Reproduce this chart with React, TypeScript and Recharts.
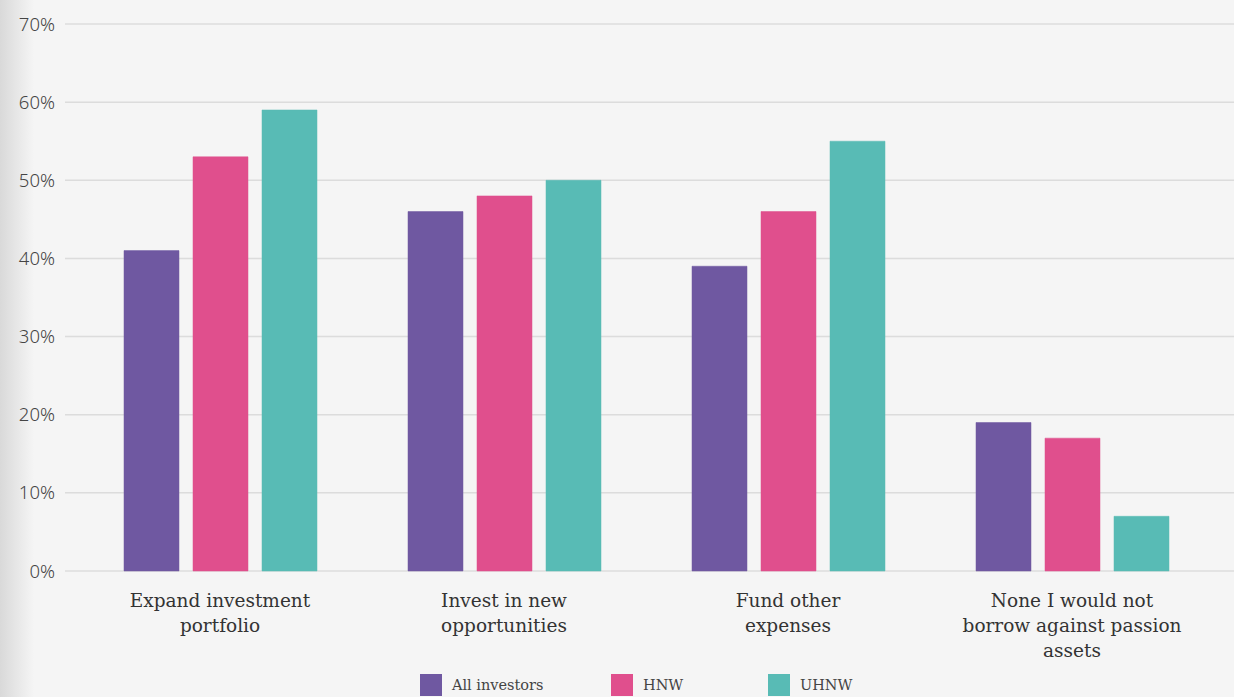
import React from 'react';
import { BarChart, Bar, XAxis, YAxis, CartesianGrid, Legend } from 'recharts';

const categories = [
    'Expand investment portfolio',
    'Invest in new opportunities',
    'Fund other expenses',
    'None I would not borrow against passion assets',
];
const categoryLines = [
    ['Expand investment', 'portfolio'],
    ['Invest in new', 'opportunities'],
    ['Fund other', 'expenses'],
    ['None I would not', 'borrow against passion', 'assets'],
];
const allInvestors = [41, 46, 39, 19];
const hnw = [53, 48, 46, 17];
const uhnw = [59, 50, 55, 7];
const yTicks = [0, 10, 20, 30, 40, 50, 60, 70];

const series = [
    { key: 'all', name: 'All investors', color: '#6f58a1', values: allInvestors },
    { key: 'hnw', name: 'HNW', color: '#e04f8d', values: hnw },
    { key: 'uhnw', name: 'UHNW', color: '#58bbb5', values: uhnw },
];

const data = categories.map((name, i) => ({
    name,
    all: allInvestors[i],
    hnw: hnw[i],
    uhnw: uhnw[i],
}));

const serif = '"DejaVu Serif", serif';
const sans = '"Noto Sans", sans-serif';

const CategoryTick = (props: any) => {
    const { x, y, payload } = props;
    const lines = categoryLines[categories.indexOf(payload.value)] || [payload.value];
    return (
        <text x={x} y={y} textAnchor="middle" fill="#333" style={{ fontFamily: serif, fontSize: 18.5 }}>
            {lines.map((l: string, i: number) => (
                <tspan key={i} x={x} dy={i === 0 ? 28 : 25}>{l}</tspan>
            ))}
        </text>
    );
};

const legendWidths = [191, 157, 120];

const LegendContent = () => (
    <div style={{ display: 'flex', justifyContent: 'flex-start', paddingLeft: 420 }}>
        {series.map((s, i) => (
            <div key={s.key} style={{ display: 'flex', alignItems: 'center', width: legendWidths[i] }}>
                <span style={{ display: 'inline-block', width: 22, height: 22, background: s.color, marginRight: 10 }} />
                <span style={{ fontFamily: serif, fontSize: 14.5, color: '#444' }}>{s.name}</span>
            </div>
        ))}
    </div>
);

export default function App() {
    return (
        <div style={{ position: 'fixed', left: 0, top: 0, width: 1234, height: 697, overflow: 'hidden', background: '#f5f5f5' }}>
            <div style={{ position: 'absolute', left: 0, top: 0, width: 34, height: 697, background: 'linear-gradient(to right, #d9d9d9, rgba(245,245,245,0))' }} />
            <BarChart
                width={1234}
                height={700}
                data={data}
                margin={{ top: 24, right: 0, left: 0, bottom: 0 }}
                barCategoryGap={45}
                barGap={14}
                style={{ position: 'absolute', left: 0, top: 0 }}
            >
                <CartesianGrid vertical={false} stroke="#dcdcdc" strokeWidth={1.5} />
                <XAxis
                    dataKey="name"
                    axisLine={false}
                    tickLine={false}
                    interval={0}
                    padding={{ left: 13, right: 20 }}
                    height={103}
                    tick={<CategoryTick />}
                />
                <YAxis
                    domain={[0, 70]}
                    ticks={yTicks}
                    axisLine={false}
                    tickLine={false}
                    width={65}
                    tickFormatter={(v: number) => `${v}%`}
                    tick={{ fill: '#444', fontFamily: sans, fontSize: 18.5, fontWeight: 300, dx: -2 }}
                />
                <Legend verticalAlign="bottom" height={26} content={<LegendContent />} />
                {series.map((s) => (
                    <Bar
                        key={s.key}
                        dataKey={s.key}
                        name={s.name}
                        fill={s.color}
                        stroke={s.color}
                        strokeOpacity={0.5}
                        barSize={55}
                        isAnimationActive={false}
                    />
                ))}
            </BarChart>
        </div>
    );
}
